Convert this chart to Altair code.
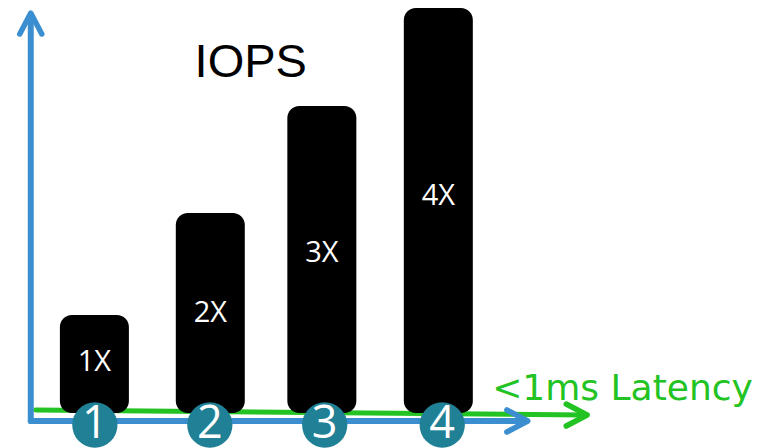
import altair as alt
import pandas as pd

# ---- data ----
bar_pos = [1.0, 2.011, 2.984, 4.0]
bar_vals = [0.968, 1.975, 3.032, 4.0]
bar_labels = ["1X", "2X", "3X", "4X"]
bar_label_y = [0.415, 0.899, 1.491, 2.054]

badge_pos = [1.004, 2.007, 3.009, 4.034]
badge_text = ["1", "2", "3", "4"]
badge_y = -0.1185
badge_text_y = -0.247

# axis arrows (start x, start y, end x, end y) in data units
axes_x = [0.445, 0.445, 0.488]
axes_y = [-0.079, -0.079, 0.0296]
axes_x2 = [0.445, 4.755, 5.27]
axes_y2 = [3.92, -0.079, -0.0198]
axes_col = ["#3b8fd0", "#3b8fd0", "#22c322"]
head_x = [0.445, 4.78, 5.298]
head_y = [3.95, -0.079, -0.0198]
head_angle = [0, 90, 90]

title_text = "IOPS"
title_x, title_y = 2.364, 3.319
latency_text = "<1ms Latency"
latency_x, latency_y = 4.47, 0.128

XD = [0.29, 6.71]
YD = [-0.3457, 4.0]

xs = alt.Scale(domain=XD, nice=False, zero=False)
ys = alt.Scale(domain=YD, nice=False, zero=False)

def X(f="x"):
    return alt.X(f + ":Q", scale=xs, axis=None)

def Y(f="y"):
    return alt.Y(f + ":Q", scale=ys, axis=None)

bars_df = pd.DataFrame({"x": bar_pos, "y": bar_vals, "base": [0] * 4})
lab_df = pd.DataFrame({"x": bar_pos, "y": bar_label_y, "t": bar_labels})
badge_df = pd.DataFrame({"x": badge_pos, "y": [badge_y] * 4})
badge_t_df = pd.DataFrame({"x": badge_pos, "y": [badge_text_y] * 4, "t": badge_text})
axes_df = pd.DataFrame({"x": axes_x, "y": axes_y, "x2": axes_x2, "y2": axes_y2, "c": axes_col})
heads_df = pd.DataFrame({"x": head_x, "y": head_y, "a": head_angle, "c": axes_col})
title_df = pd.DataFrame({"x": [title_x], "y": [title_y], "t": [title_text]})
lat_df = pd.DataFrame({"x": [latency_x], "y": [latency_y], "t": [latency_text]})

green = alt.Chart(axes_df.iloc[[2]]).mark_rule(strokeWidth=5, strokeCap="round").encode(
    x=X(), y=Y(), x2="x2:Q", y2="y2:Q", color=alt.Color("c:N", scale=None))
blue = alt.Chart(axes_df.iloc[[0, 1]]).mark_rule(strokeWidth=6, strokeCap="round").encode(
    x=X(), y=Y(), x2="x2:Q", y2="y2:Q", color=alt.Color("c:N", scale=None))
heads = alt.Chart(heads_df).mark_point(
    shape="M-1,1.9L0,0L1,1.9", filled=False, size=484, strokeWidth=5.5,
    strokeCap="round", strokeJoin="round", opacity=1).encode(
    x=X(), y=Y(), angle=alt.Angle("a:Q", scale=None), stroke=alt.Stroke("c:N", scale=None))

bars = alt.Chart(bars_df).mark_bar(width=69, cornerRadius=12, color="#000000").encode(
    x=X(), y=Y(), y2="base:Q")
labels = alt.Chart(lab_df).mark_text(font="Open Sans", fontSize=29, color="white",
                                     align="center", baseline="alphabetic").encode(
    x=X(), y=Y(), text="t:N")
badges = alt.Chart(badge_df).mark_circle(size=2050, color="#1f8096", opacity=1).encode(x=X(), y=Y())
badge_txt = alt.Chart(badge_t_df).mark_text(font="Open Sans", fontSize=45, color="white",
                                            align="center", baseline="alphabetic").encode(
    x=X(), y=Y(), text="t:N")
title = alt.Chart(title_df).mark_text(font="Liberation Sans", fontSize=47, color="black",
                                      align="center", baseline="alphabetic").encode(
    x=X(), y=Y(), text="t:N")
lat = alt.Chart(lat_df).mark_text(font="DejaVu Sans", fontSize=36, color="#22c322",
                                  align="left", baseline="alphabetic").encode(
    x=X(), y=Y(), text="t:N")

chart = alt.layer(green, bars, blue, heads, labels, badges, badge_txt, title, lat).properties(
    width=746, height=440, padding=0, autosize="none"
).configure_view(stroke=None)

chart.save("out.html", embed_options={"renderer": "svg", "actions": False})
